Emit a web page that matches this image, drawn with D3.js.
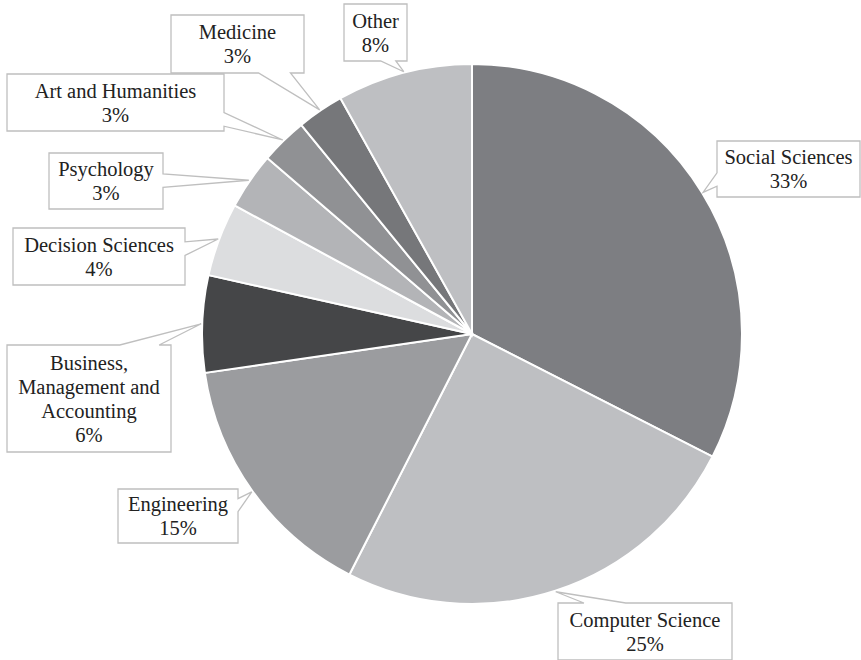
<!DOCTYPE html>
<html>
<head>
<meta charset="utf-8">
<script src="https://cdn.jsdelivr.net/npm/d3@7"></script>
<style>
  body { margin: 0; background: #fff; }
  svg { display: block; }
  .callout text { font-family: 'Liberation Serif', 'Times New Roman', Times, serif; }
</style>
</head>
<body>
<svg id="chart"></svg>
<script>
// slice data, clockwise from 12 o'clock
const categories = ['Social Sciences', 'Computer Science', 'Engineering',
  'Business, Management and Accounting', 'Decision Sciences', 'Psychology',
  'Art and Humanities', 'Medicine', 'Other']
const values = [32.5, 25.0, 15.2, 5.8, 4.4, 3.4, 2.8, 2.8, 8.1]
const labelLines = [
  ['Social Sciences'], ['Computer Science'], ['Engineering'],
  ['Business,', 'Management and', 'Accounting'], ['Decision Sciences'], ['Psychology'],
  ['Art and Humanities'], ['Medicine'], ['Other']
]
const sliceColors = ['#7d7e82', '#bebfc2', '#9b9c9f', '#454648', '#dcdddf',
  '#b3b4b7', '#909194', '#76777a', '#bebfc2']

// callout boxes (layout only): x, y, w, h
const boxes = [
  [717, 141, 143, 56], [558, 603, 174, 57], [118, 489, 120, 54],
  [7, 345, 164, 107], [13, 228, 172, 57], [49, 153, 114, 56],
  [7, 74, 217, 57], [171, 15, 133, 58], [344, 4, 63, 57]
]

const width = 861, height = 660
const cx = 472, cy = 334, radius = 270
const lineH = 24

const svg = d3.select('#chart').attr('width', width).attr('height', height)

const pie = d3.pie().sort(null).value(d => d.value)
const arc = d3.arc().innerRadius(0).outerRadius(radius)

const data = categories.map((c, i) => ({ name: c, value: values[i], lines: labelLines[i], color: sliceColors[i], box: boxes[i] }))
const arcs = pie(data)
const total = d3.sum(values)

const g = svg.append('g').attr('transform', `translate(${cx},${cy})`)

g.selectAll('path.slice').data(arcs)
  .enter()
  .append('path')
  .attr('class', 'slice')
  .attr('d', arc)
  .attr('fill', d => d.data.color)
  .attr('stroke', '#fff')
  .attr('stroke-width', 2)

// callout with wedge pointing at the arc midpoint
function calloutPath(d) {
  const [x, y, w, h] = d.data.box
  const mid = (d.startAngle + d.endAngle) / 2
  const tx = cx + (radius + 1) * Math.sin(mid)
  const ty = cy - (radius + 1) * Math.cos(mid)
  const bx = x + w / 2, by = y + h / 2
  const nx = (tx - bx) / (w / 2), ny = (ty - by) / (h / 2)
  const clamp = (v, a, b) => Math.max(a, Math.min(b, v))
  let side
  if (Math.abs(nx) > Math.abs(ny)) side = nx > 0 ? 'right' : 'left'
  else side = ny > 0 ? 'bottom' : 'top'
  const t = 0.45
  let p
  if (side === 'top' || side === 'bottom') {
    const hw = 0.12 * w
    const c = clamp(bx + t * (tx - bx), x + hw, x + w - hw)
    p = side === 'top'
      ? [[x, y], [c - hw, y], [tx, ty], [c + hw, y], [x + w, y], [x + w, y + h], [x, y + h]]
      : [[x, y], [x + w, y], [x + w, y + h], [c + hw, y + h], [tx, ty], [c - hw, y + h], [x, y + h]]
  } else {
    const hw = 0.12 * h
    const c = clamp(by + t * (ty - by), y + hw, y + h - hw)
    p = side === 'right'
      ? [[x, y], [x + w, y], [x + w, c - hw], [tx, ty], [x + w, c + hw], [x + w, y + h], [x, y + h]]
      : [[x, y], [x + w, y], [x + w, y + h], [x, y + h], [x, c + hw], [tx, ty], [x, c - hw]]
  }
  return 'M' + p.map(q => q.join(',')).join('L') + 'Z'
}

const labels = svg.selectAll('g.callout').data(arcs)
  .enter()
  .append('g')
  .attr('class', 'callout')

labels.append('path')
  .attr('d', calloutPath)
  .attr('fill', '#fff')
  .attr('stroke', '#bfbfbf')
  .attr('stroke-width', 1.3)

labels.each(function(d) {
  const [x, y, w, h] = d.data.box
  const lines = d.data.lines.concat([Math.round(d.data.value / total * 100) + '%'])
  const top = y + (h - lines.length * lineH) / 2 + 19
  const text = d3.select(this).append('text')
    .attr('text-anchor', 'middle')
    .style('font-size', '20.5px')
    .attr('fill', '#222')
  lines.forEach((l, i) => {
    text.append('tspan')
      .attr('x', x + w / 2)
      .attr('y', top + i * lineH)
      .text(l)
  })
})
</script>
</body>
</html>
